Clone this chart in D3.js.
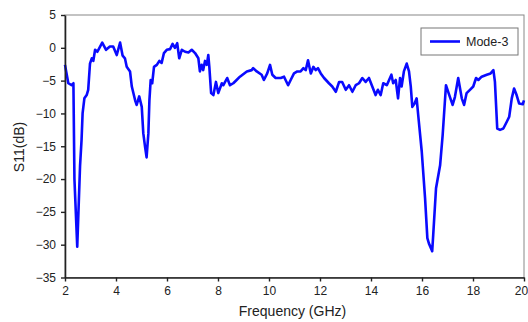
<!DOCTYPE html>
<html lang="en">
<head>
<meta charset="UTF-8">
<title>S11 Mode-3</title>
<script src="https://d3js.org/d3.v7.min.js"></script>
<style>
    body { margin: 0; background: #fff; }
    text { font-family: 'Liberation Sans', Arial, sans-serif; fill: #222; }
</style>
</head>
<body>
<script>
    // frequency (GHz) and S11 (dB)
    const freq = [2.00, 2.13, 2.26, 2.33, 2.37, 2.48, 2.59, 2.65, 2.69, 2.76, 2.85, 2.91, 2.98, 3.05, 3.11,
        3.18, 3.27, 3.35, 3.46, 3.61, 3.76, 3.89, 4.03, 4.16, 4.26, 4.35, 4.42, 4.55, 4.62, 4.75, 4.81,
        4.91, 5.01, 5.07, 5.14, 5.20, 5.27, 5.31, 5.36, 5.42, 5.49, 5.60, 5.70, 5.79, 5.88, 5.99, 6.12,
        6.22, 6.31, 6.40, 6.48, 6.58, 6.71, 6.84, 6.97, 7.10, 7.23, 7.29, 7.36, 7.42, 7.49, 7.56, 7.62,
        7.66, 7.73, 7.82, 7.92, 8.01, 8.15, 8.21, 8.36, 8.47, 8.60, 8.73, 8.86, 9.13, 9.32, 9.38, 9.52,
        9.71, 9.80, 9.93, 10.04, 10.13, 10.26, 10.46, 10.59, 10.65, 10.75, 10.85, 10.98, 11.11, 11.24,
        11.35, 11.44, 11.53, 11.64, 11.74, 11.83, 11.92, 12.03, 12.16, 12.35, 12.48, 12.62, 12.75, 12.87,
        13.01, 13.14, 13.27, 13.40, 13.53, 13.66, 13.79, 13.92, 14.05, 14.18, 14.27, 14.38, 14.48, 14.62,
        14.71, 14.80, 14.87, 14.97, 15.06, 15.14, 15.20, 15.29, 15.40, 15.49, 15.56, 15.62, 15.71, 15.79,
        15.85, 15.99, 16.12, 16.21, 16.27, 16.38, 16.40, 16.44, 16.55, 16.71, 16.81, 16.94, 17.07, 17.20,
        17.29, 17.42, 17.56, 17.65, 17.75, 17.88, 18.01, 18.12, 18.21, 18.34, 18.54, 18.69, 18.80, 18.86,
        18.95, 19.06, 19.19, 19.32, 19.42, 19.52, 19.61, 19.71, 19.81, 19.95, 20.00];
    const s11 = [-2.6, -5.4, -5.7, -5.4, -20.0, -30.3, -18.0, -14.0, -10.0, -7.7, -7.2, -6.4, -2.4, -1.6, -2.0,
        -0.3, -0.6, 0.0, 0.8, -0.3, 0.2, 0.2, -1.1, 0.8, -1.2, -1.6, -2.9, -3.6, -5.9, -8.0, -8.7,
        -7.4, -9.0, -13.0, -15.1, -16.7, -13.0, -8.0, -4.9, -5.4, -2.9, -2.6, -2.0, -2.3, -0.8, -0.3, -0.2,
        0.6, 0.0, 0.7, -1.6, -0.3, -0.6, -0.7, -0.3, -0.8, -1.6, -3.6, -2.6, -3.4, -2.0, -2.6, -1.1,
        -2.9, -6.9, -7.2, -5.2, -6.9, -5.4, -5.7, -4.6, -5.7, -5.4, -4.9, -4.4, -3.6, -3.4, -3.1, -3.6,
        -4.1, -4.9, -3.9, -2.6, -4.1, -4.6, -4.6, -4.4, -4.9, -5.7, -4.9, -3.9, -3.6, -3.6,
        -3.1, -3.4, -1.9, -3.9, -2.9, -3.4, -3.1, -3.9, -4.6, -5.4, -5.9, -6.7, -5.2, -5.2,
        -6.4, -5.7, -6.7, -5.7, -5.4, -4.6, -5.2, -4.6, -5.9, -7.2, -6.4, -7.2, -5.4, -5.7,
        -4.9, -4.1, -5.4, -4.9, -7.7, -4.6, -5.9, -3.6, -2.4, -3.6, -5.9, -9.0, -8.5, -7.7,
        -10.2, -15.8, -22.9, -29.0, -29.8, -30.8, -31.0, -28.5, -21.4, -17.9, -13.3, -5.7, -7.2, -8.7,
        -7.5, -4.6, -7.7, -8.7, -6.9, -6.4, -5.9, -4.6, -4.9, -4.4, -4.1, -3.9, -3.4, -5.2,
        -12.3, -12.5, -12.3, -11.3, -10.5, -7.7, -6.2, -7.2, -8.5, -8.6, -8.0];
    const xTicks = [2, 4, 6, 8, 10, 12, 14, 16, 18, 20];
    const yTicks = [5, 0, -5, -10, -15, -20, -25, -30, -35];
    const seriesName = "Mode-3";

    const width = 528, height = 322;
    const margin = {top: 15, right: 4, bottom: 44.5, left: 65};

    const svg = d3.select("body").append("svg")
        .attr("width", width)
        .attr("height", height);

    const x = d3.scaleLinear().domain([2, 20]).range([margin.left, width - margin.right]);
    const y = d3.scaleLinear().domain([-35, 5]).range([height - margin.bottom, margin.top]);

    // frame (top / right in grey)
    svg.append("rect")
        .attr("x", x(2)).attr("y", y(5))
        .attr("width", x(20) - x(2)).attr("height", y(-35) - y(5))
        .attr("fill", "none").attr("stroke", "#888").attr("stroke-width", 1);

    const line = d3.line()
        .x((d, i) => x(freq[i]))
        .y(d => y(d));

    svg.append("path")
        .datum(s11)
        .attr("fill", "none")
        .attr("stroke", "#0a0aff")
        .attr("stroke-width", 2.6)
        .attr("stroke-linejoin", "round")
        .attr("d", line);

    const xAxis = svg.append("g")
        .attr("transform", `translate(0,${y(-35)})`)
        .call(d3.axisBottom(x).tickValues(xTicks).tickSize(4).tickSizeOuter(0).tickPadding(5));
    const yAxis = svg.append("g")
        .attr("transform", `translate(${x(2)},0)`)
        .call(d3.axisLeft(y).tickValues(yTicks).tickSize(4).tickSizeOuter(0).tickPadding(5));

    [xAxis, yAxis].forEach(g => {
        g.select(".domain").attr("stroke", "#222").attr("stroke-width", 1.6);
        g.selectAll(".tick line").attr("stroke", "#222").attr("stroke-width", 1.4);
        g.selectAll(".tick text").attr("font-size", 12).attr("font-family", "'Liberation Sans', Arial, sans-serif").attr("fill", "#222");
    });
    // last label sits at the edge; nudge it in so it is not clipped
    xAxis.selectAll(".tick text").filter(d => d === 20).attr("dx", -3);

    svg.append("text")
        .attr("x", (x(2) + x(20)) / 2 - 2)
        .attr("y", 316)
        .attr("text-anchor", "middle")
        .attr("font-size", 14)
        .text("Frequency (GHz)");

    svg.append("text")
        .attr("transform", `translate(24,${147}) rotate(-90)`)
        .attr("text-anchor", "middle")
        .attr("font-size", 14)
        .text("S11(dB)");

    // legend
    const leg = svg.append("g").attr("transform", "translate(421,28)");
    leg.append("rect")
        .attr("width", 97).attr("height", 27)
        .attr("fill", "#fff").attr("stroke", "#777").attr("stroke-width", 1);
    leg.append("line")
        .attr("x1", 9).attr("x2", 39).attr("y1", 13.5).attr("y2", 13.5)
        .attr("stroke", "#0a0aff").attr("stroke-width", 2.6);
    leg.append("text")
        .attr("x", 45).attr("y", 18)
        .attr("font-size", 12.5)
        .text(seriesName);
</script>
</body>
</html>
